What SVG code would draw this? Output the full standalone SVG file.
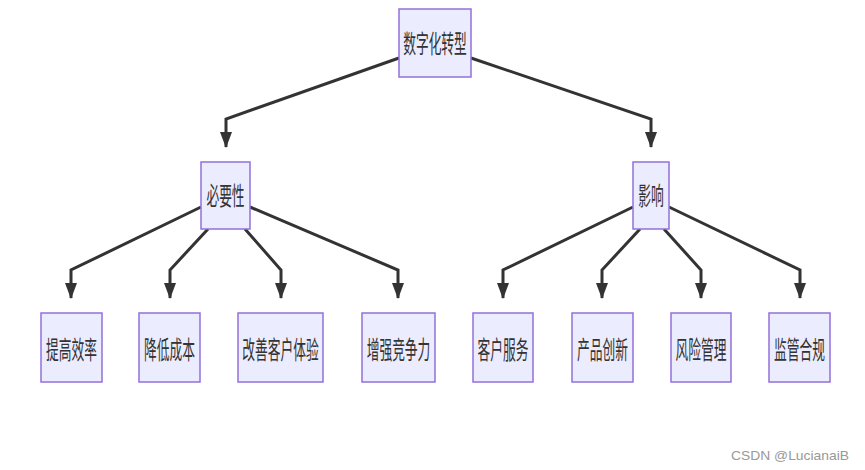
<svg xmlns="http://www.w3.org/2000/svg" width="865" height="470" viewBox="0 0 865 470">
<defs>
<marker id="arr" markerWidth="16" markerHeight="12" refX="15" refY="6" orient="auto" markerUnits="userSpaceOnUse" viewBox="0 0 16 12">
<path d="M0,0 L16,6 L0,12 z" fill="#333333"/>
</marker>
<style>
.node rect{fill:#ECECFF;stroke:#9370DB;stroke-width:1.5}
.node text{font-family:"Liberation Sans","Noto Sans CJK SC",sans-serif;font-size:25px;fill:#333333;text-anchor:middle;dominant-baseline:central}
.edges path{fill:none;stroke:#333333;stroke-width:3}
.wm{font-family:"Liberation Sans",Arial,sans-serif;font-size:13px;fill:#999999}
</style>
</defs>
<rect width="865" height="470" fill="#ffffff"/>
<g id="edges" class="edges">
<path d="M399,58 L226,119 L226,147" marker-end="url(#arr)"/>
<path d="M471,58 L651,119 L651,147" marker-end="url(#arr)"/>
<path d="M201,207 L71,270 L71,298" marker-end="url(#arr)"/>
<path d="M208,229 L170,270 L170,298" marker-end="url(#arr)"/>
<path d="M245,229 L281,270 L281,298" marker-end="url(#arr)"/>
<path d="M250,207 L398,270 L398,298" marker-end="url(#arr)"/>
<path d="M633,207 L503,270 L503,298" marker-end="url(#arr)"/>
<path d="M640,229 L602,270 L602,298" marker-end="url(#arr)"/>
<path d="M664,229 L701,270 L701,298" marker-end="url(#arr)"/>
<path d="M669,207 L800,270 L800,298" marker-end="url(#arr)"/>
</g>
<g id="n_root" class="node"><rect x="399" y="9" width="72" height="68"/><text transform="translate(435,44) scale(0.51,1)">数字化转型</text></g>
<g id="n_need" class="node"><rect x="201" y="162" width="49" height="67"/><text transform="translate(225.5,196) scale(0.51,1)">必要性</text></g>
<g id="n_impact" class="node"><rect x="633" y="162" width="36" height="67"/><text transform="translate(651,196) scale(0.51,1)">影响</text></g>
<g id="n1" class="node"><rect x="41" y="313" width="61" height="69"/><text transform="translate(71.5,350) scale(0.51,1)">提高效率</text></g>
<g id="n2" class="node"><rect x="139" y="313" width="61" height="69"/><text transform="translate(169.5,350) scale(0.51,1)">降低成本</text></g>
<g id="n3" class="node"><rect x="238" y="313" width="85" height="69"/><text transform="translate(280.5,350) scale(0.51,1)">改善客户体验</text></g>
<g id="n4" class="node"><rect x="362" y="313" width="73" height="69"/><text transform="translate(398.5,350) scale(0.51,1)">增强竞争力</text></g>
<g id="n5" class="node"><rect x="473" y="313" width="60" height="69"/><text transform="translate(503,350) scale(0.51,1)">客户服务</text></g>
<g id="n6" class="node"><rect x="572" y="313" width="61" height="69"/><text transform="translate(602.5,350) scale(0.51,1)">产品创新</text></g>
<g id="n7" class="node"><rect x="671" y="313" width="60" height="69"/><text transform="translate(701,350) scale(0.51,1)">风险管理</text></g>
<g id="n8" class="node"><rect x="769" y="313" width="61" height="69"/><text transform="translate(799.5,350) scale(0.51,1)">监管合规</text></g>
<text class="wm" x="731" y="460" textLength="118" lengthAdjust="spacingAndGlyphs">CSDN @LucianaiB</text>
</svg>
